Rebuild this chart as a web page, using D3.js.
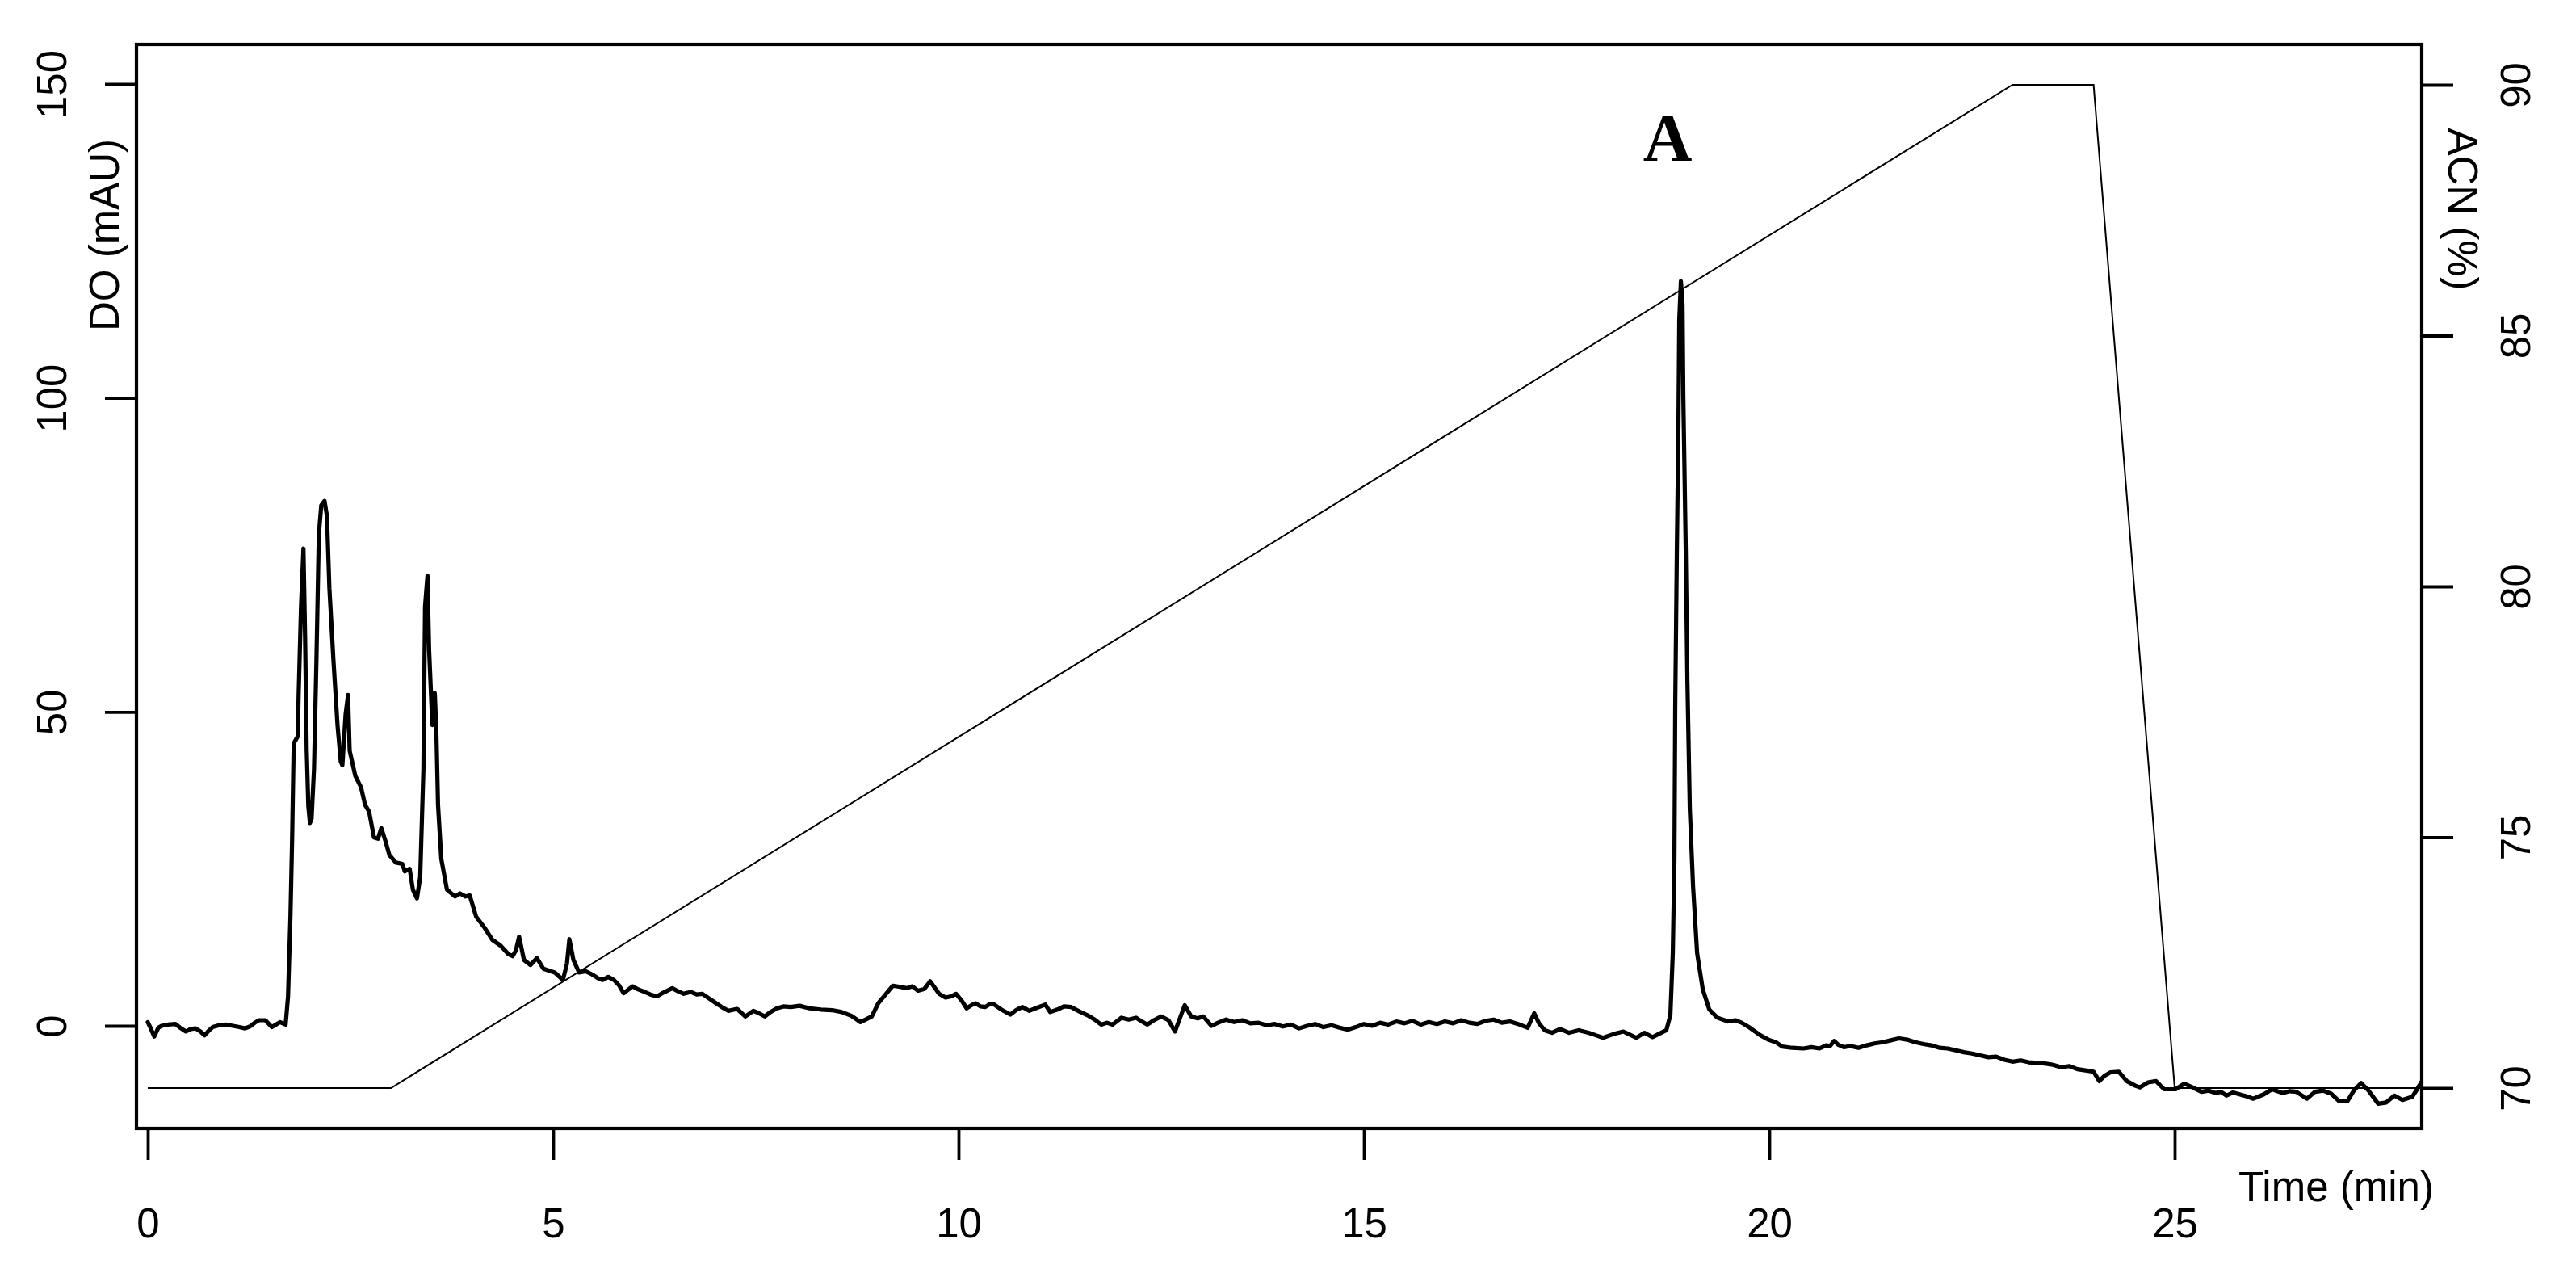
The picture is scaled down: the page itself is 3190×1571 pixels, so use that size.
<!DOCTYPE html>
<html>
<head>
<meta charset="utf-8">
<script src="https://cdn.jsdelivr.net/npm/d3@7"></script>
<style>
  html, body { margin: 0; padding: 0; background: #fff; }
  svg { display: block; }
</style>
</head>
<body>
<script>
// ---- Data ----
const time = [
  0.00,0.04,0.08,0.13,0.17,0.25,0.34,0.40,0.47,0.53,0.59,0.65,0.70,0.75,0.80,0.88,0.97,1.05,1.13,1.20,
  1.26,1.32,1.37,1.45,1.53,1.58,1.63,1.70,1.73,1.76,1.78,1.80,1.85,1.86,1.89,1.92,1.94,1.96,1.98,2.00,
  2.02,2.05,2.08,2.11,2.14,2.18,2.21,2.24,2.29,2.34,2.38,2.40,2.44,2.47,2.49,2.56,2.63,2.68,2.73,2.79,
  2.84,2.88,2.93,2.98,3.06,3.14,3.17,3.23,3.27,3.32,3.36,3.40,3.42,3.45,3.47,3.51,3.54,3.56,3.58,3.62,
  3.69,3.79,3.85,3.92,3.97,4.05,4.15,4.25,4.35,4.45,4.50,4.54,4.58,4.64,4.72,4.80,4.88,5.02,5.12,5.17,
  5.20,5.25,5.32,5.40,5.48,5.55,5.61,5.68,5.75,5.81,5.87,5.98,6.05,6.13,6.20,6.28,6.36,6.47,6.54,6.61,
  6.70,6.77,6.84,6.92,7.01,7.08,7.16,7.27,7.37,7.47,7.54,7.61,7.68,7.76,7.84,7.93,8.04,8.16,8.30,8.44,
  8.56,8.68,8.79,8.93,9.01,9.10,9.19,9.28,9.36,9.43,9.50,9.58,9.65,9.76,9.84,9.91,9.97,10.04,10.10,10.16,
  10.21,10.27,10.33,10.39,10.44,10.54,10.64,10.72,10.79,10.87,10.97,11.07,11.13,11.22,11.30,11.39,11.49,11.59,11.68,11.76,
  11.83,11.90,12.01,12.10,12.19,12.26,12.33,12.41,12.50,12.59,12.67,12.79,12.87,12.95,13.02,13.12,13.20,13.30,13.40,13.50,
  13.60,13.70,13.80,13.90,14.00,14.10,14.20,14.30,14.40,14.50,14.60,14.70,14.80,14.90,15.00,15.10,15.20,15.30,15.40,15.50,
  15.60,15.70,15.80,15.90,16.00,16.10,16.20,16.30,16.40,16.50,16.60,16.70,16.80,16.90,17.02,17.10,17.16,17.23,17.32,17.42,
  17.53,17.65,17.77,17.86,17.95,18.08,18.20,18.28,18.36,18.46,18.56,18.65,18.73,18.78,18.81,18.83,18.84,18.86,18.88,18.89,
  18.91,18.93,18.94,18.97,18.99,19.02,19.06,19.11,19.18,19.26,19.36,19.49,19.58,19.66,19.76,19.89,19.99,20.08,20.16,20.28,
  20.42,20.52,20.62,20.70,20.75,20.80,20.85,20.92,21.00,21.10,21.20,21.30,21.40,21.50,21.60,21.70,21.80,21.90,22.00,22.10,
  22.20,22.30,22.40,22.50,22.60,22.70,22.80,22.90,23.00,23.10,23.20,23.30,23.40,23.50,23.60,23.70,23.80,23.90,24.00,24.07,
  24.14,24.21,24.31,24.41,24.51,24.57,24.67,24.77,24.87,25.01,25.12,25.22,25.33,25.42,25.50,25.57,25.64,25.72,25.80,25.88,
  25.97,26.10,26.20,26.33,26.42,26.50,26.63,26.73,26.83,26.93,27.03,27.13,27.21,27.30,27.39,27.51,27.61,27.71,27.81,27.93,
  27.99,28.04
];
const absorbance = [
  0.6,-0.5,-1.7,-0.3,0.0,0.2,0.3,-0.3,-0.9,-0.5,-0.4,-0.9,-1.5,-0.8,-0.2,0.1,0.2,0.0,-0.2,-0.4,
  -0.1,0.5,0.9,0.9,-0.2,0.2,0.6,0.2,4.7,17.6,29.5,45.0,46.1,52.4,66.8,76.0,62.0,43.8,35.0,32.3,
  33.0,40.9,58.2,78.3,82.9,83.6,81.2,69.7,58.2,47.9,42.1,41.5,49.6,52.7,43.8,39.8,38.0,35.2,34.1,30.0,
  29.8,31.5,29.5,27.2,26.0,25.8,24.6,25.0,21.7,20.3,23.7,40.9,66.8,71.7,59.9,47.9,53.0,46.7,35.2,26.6,
  21.7,20.6,21.1,20.6,20.8,17.4,15.7,13.7,12.8,11.4,11.1,12.0,14.2,10.5,9.7,10.8,9.1,8.5,7.3,9.9,
  13.8,10.5,8.5,8.7,8.2,7.6,7.3,7.8,7.3,6.5,5.2,6.3,5.8,5.4,5.0,4.7,5.3,6.0,5.5,5.1,
  5.4,5.0,5.1,4.4,3.6,3.0,2.4,2.7,1.5,2.4,2.0,1.5,2.2,2.8,3.1,3.0,3.2,2.8,2.6,2.5,
  2.2,1.6,0.6,1.5,3.6,5.0,6.4,6.2,6.0,6.3,5.6,5.9,7.1,5.1,4.5,4.7,5.1,4.0,2.8,3.3,
  3.6,3.1,3.0,3.5,3.4,2.5,1.8,2.6,3.0,2.4,2.9,3.4,2.2,2.6,3.1,3.0,2.3,1.7,1.0,0.2,
  0.5,0.2,1.3,1.0,1.3,0.7,0.2,0.9,1.5,0.9,-0.9,3.3,1.5,1.2,1.5,0.0,0.5,1.0,0.6,0.9,
  0.4,0.5,0.1,0.3,-0.1,0.2,-0.4,0.0,0.3,-0.2,0.1,-0.3,-0.6,-0.2,0.3,0.0,0.5,0.2,0.7,0.4,
  0.8,0.2,0.6,0.3,0.7,0.4,0.9,0.5,0.3,0.8,1.0,0.5,0.7,0.3,-0.3,2.0,0.4,-0.7,-1.1,-0.5,
  -1.1,-0.7,-1.1,-1.5,-1.9,-1.3,-0.9,-1.4,-1.9,-1.1,-1.8,-1.2,-0.7,1.7,11.6,26.4,51.0,75.6,96.1,112.5,
  118.6,115.0,100.2,75.6,55.1,34.5,22.2,11.6,5.8,2.6,1.3,0.7,0.9,0.5,-0.3,-1.5,-2.2,-2.6,-3.3,-3.5,
  -3.6,-3.4,-3.6,-3.1,-3.2,-2.4,-3.0,-3.4,-3.2,-3.5,-3.1,-2.8,-2.6,-2.3,-2.0,-2.2,-2.6,-2.9,-3.1,-3.5,
  -3.6,-3.9,-4.2,-4.4,-4.7,-5.0,-4.9,-5.4,-5.7,-5.5,-5.8,-5.9,-6.0,-6.2,-6.6,-6.4,-6.9,-7.1,-7.3,-8.8,
  -7.9,-7.4,-7.3,-8.8,-9.5,-9.8,-9.0,-8.8,-10.1,-10.1,-9.2,-9.8,-10.5,-10.3,-10.7,-10.5,-11.1,-10.6,-10.9,-11.2,
  -11.6,-10.9,-10.1,-10.7,-10.4,-10.5,-11.6,-10.5,-10.3,-10.8,-12.0,-12.0,-10.3,-9.1,-10.3,-12.4,-12.2,-11.1,-11.8,-11.3,
  -10.1,-9.0
];
// ACN gradient programme (min, %)
const gradTime = [0, 3, 23, 24, 25, 28.05];
const gradACN  = [70, 70, 90, 90, 70, 70];

// Tick values
const xTicks = [0, 5, 10, 15, 20, 25];
const yTicks = [0, 50, 100, 150];
const acnTicks = [70, 75, 80, 85, 90];

// Labels
const xLabel = "Time (min)";
const yLabel = "DO (mAU)";
const y2Label = "ACN (%)";
const panelLabel = "A";

// ---- Drawing ----
const W = 3190, H = 1571;
const box = {left: 169, right: 2999, top: 55, bottom: 1397};
const FONT = "'Liberation Sans', Arial, Helvetica, sans-serif";
const FS = 51;

const svg = d3.select("body").append("svg")
  .attr("width", W).attr("height", H)
  .attr("viewBox", `0 0 ${W} ${H}`);
svg.append("rect").attr("width", W).attr("height", H).attr("fill", "#fff");

const x = d3.scaleLinear().domain([0, 25]).range([183, 2693]);
const y = d3.scaleLinear().domain([0, 150]).range([1270, 104]);
const y2 = d3.scaleLinear().domain([70, 90]).range([1347, 105]);

svg.append("clipPath").attr("id", "plotclip")
  .append("rect")
  .attr("x", box.left).attr("y", box.top)
  .attr("width", box.right - box.left).attr("height", box.bottom - box.top);

const plot = svg.append("g").attr("clip-path", "url(#plotclip)");

// gradient line (thin)
const gradData = gradTime.map((t, i) => ({t, v: gradACN[i]}));
plot.append("path")
  .datum(gradData)
  .attr("fill", "none")
  .attr("stroke", "#000")
  .attr("stroke-width", 2)
  .attr("d", d3.line().x(d => x(d.t)).y(d => y2(d.v)));

// chromatogram
const chrom = time.map((t, i) => ({t, v: absorbance[i]}));
plot.append("path")
  .datum(chrom)
  .attr("fill", "none")
  .attr("stroke", "#000")
  .attr("stroke-width", 5.2)
  .attr("stroke-linejoin", "round")
  .attr("stroke-linecap", "round")
  .attr("d", d3.line().x(d => x(d.t)).y(d => y(d.v)));

// axes
const TICK = 39;
function styleAxis(g) {
  g.select(".domain").remove();
  g.selectAll(".tick line").attr("stroke", "#000").attr("stroke-width", 3.8);
  g.selectAll(".tick text")
    .attr("fill", "#000")
    .style("font-family", FONT)
    .style("font-size", FS + "px");
}

const gx = svg.append("g")
  .attr("transform", `translate(0,${box.bottom})`)
  .call(d3.axisBottom(x).tickValues(xTicks).tickSize(TICK).tickFormat(d3.format("d")));
styleAxis(gx);
gx.selectAll(".tick text")
  .attr("y", null).attr("dy", null)
  .attr("text-anchor", "middle")
  .attr("transform", `translate(0,${1532 - box.bottom})`);

const gy = svg.append("g")
  .attr("transform", `translate(${box.left},0)`)
  .call(d3.axisLeft(y).tickValues(yTicks).tickSize(TICK).tickFormat(d3.format("d")));
styleAxis(gy);
gy.selectAll(".tick text")
  .attr("x", null).attr("dy", null)
  .attr("text-anchor", "middle")
  .attr("transform", `translate(${82 - box.left},0) rotate(-90)`);

const gy2 = svg.append("g")
  .attr("transform", `translate(${box.right},0)`)
  .call(d3.axisRight(y2).tickValues(acnTicks).tickSize(TICK).tickFormat(d3.format("d")));
styleAxis(gy2);
gy2.selectAll(".tick text")
  .attr("x", null).attr("dy", null)
  .attr("text-anchor", "middle")
  .attr("transform", `translate(${3133 - box.right},0) rotate(-90)`);

// box
svg.append("rect")
  .attr("x", box.left).attr("y", box.top)
  .attr("width", box.right - box.left).attr("height", box.bottom - box.top)
  .attr("fill", "none").attr("stroke", "#000").attr("stroke-width", 4.2);

// axis titles
svg.append("text")
  .attr("transform", "translate(147,291) rotate(-90)")
  .attr("text-anchor", "middle")
  .style("font-family", FONT).style("font-size", FS + "px")
  .text(yLabel);

svg.append("text")
  .attr("transform", "translate(3032,259) rotate(90)")
  .attr("text-anchor", "middle")
  .style("font-family", FONT).style("font-size", FS + "px")
  .text(y2Label);

svg.append("text")
  .attr("x", 2893).attr("y", 1487)
  .attr("text-anchor", "middle")
  .style("font-family", FONT).style("font-size", FS + "px")
  .text(xLabel);

svg.append("text")
  .attr("x", 2065).attr("y", 199)
  .attr("text-anchor", "middle")
  .style("font-family", "'Liberation Serif', 'Times New Roman', serif")
  .style("font-weight", "bold")
  .style("font-size", "84px")
  .text(panelLabel);
</script>
</body>
</html>
